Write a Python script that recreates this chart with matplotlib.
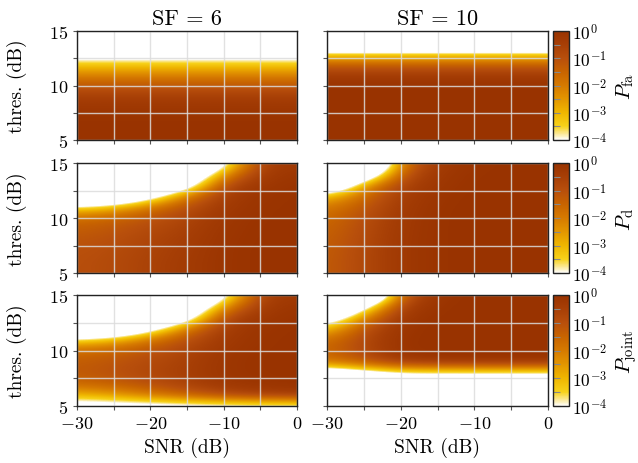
import numpy as np
import matplotlib
matplotlib.use("Agg")
import matplotlib.pyplot as plt
from matplotlib.colors import LinearSegmentedColormap, Normalize
from matplotlib.ticker import FuncFormatter

plt.rcParams['font.family'] = 'serif'
plt.rcParams['font.serif'] = ['cmr10']
plt.rcParams['mathtext.fontset'] = 'cm'
plt.rcParams['axes.formatter.use_mathtext'] = True
plt.rcParams['axes.unicode_minus'] = False

# evaluation grid
snr_db = [-30, -25, -20, -15, -10, -5, 0]
thres_db = [5, 6, 7, 8, 9, 10, 11, 12, 13, 14, 15]
sf_values = [6, 10]

# log10 probabilities, one row per threshold (5..15 dB), one column per SNR
# false alarm does not depend on SNR -> one value per threshold
log_pfa_sf6 = [0, 0, -0.05, -0.2, -0.5, -1.2, -2.2, -3.4, -4.8, -8, -8]
log_pfa_sf10 = [0, 0, 0, 0, 0, -0.05, -0.4, -1.5, -3.7, -7, -8]

log_pd_sf6 = [
    [-1.0, -0.85, -0.6, -0.35, -0.1, -0.02, 0],
    [-1.0, -0.85, -0.6, -0.35, -0.1, -0.02, 0],
    [-1.05, -0.9, -0.65, -0.4, -0.1, -0.02, 0],
    [-1.15, -1.0, -0.7, -0.45, -0.12, -0.03, 0],
    [-1.35, -1.15, -0.85, -0.55, -0.15, -0.04, 0],
    [-1.7, -1.5, -1.1, -0.7, -0.2, -0.05, 0],
    [-3.6, -3.0, -1.9, -1.0, -0.3, -0.07, -0.02],
    [-7.6, -7.0, -4.6, -2.0, -0.4, -0.1, -0.03],
    [-9, -9, -8, -5.0, -0.8, -0.2, -0.05],
    [-9, -9, -9, -6.5, -2.4, -0.35, -0.15],
    [-9, -9, -9, -9, -4.4, -0.55, -0.3],
]

log_pd_sf10 = [
    [-1.3, -0.8, -0.25, -0.05, 0, 0, 0],
    [-1.3, -0.8, -0.25, -0.05, 0, 0, 0],
    [-1.35, -0.8, -0.25, -0.05, 0, 0, 0],
    [-1.4, -0.85, -0.25, -0.05, 0, 0, 0],
    [-1.5, -0.9, -0.28, -0.05, 0, 0, 0],
    [-1.65, -1.0, -0.3, -0.05, 0, 0, 0],
    [-2.0, -1.2, -0.35, -0.07, 0, 0, 0],
    [-3.2, -1.6, -0.45, -0.1, -0.02, 0, 0],
    [-7.0, -2.5, -0.65, -0.15, -0.03, 0, 0],
    [-9, -6.25, -1.1, -0.2, -0.05, 0, 0],
    [-9, -9, -1.8, -0.3, -0.1, -0.02, 0],
]

log_pjoint_sf6 = [
    [-4.8, -4.75, -4.7, -4.6, -4.5, -4.4, -4.35],
    [-3.0, -2.6, -2.0, -1.4, -0.8, -0.5, -0.35],
    [-1.6, -1.35, -1.0, -0.6, -0.25, -0.1, -0.05],
    [-1.25, -1.05, -0.75, -0.5, -0.15, -0.04, -0.01],
    [-1.35, -1.15, -0.85, -0.55, -0.15, -0.04, 0],
    [-1.7, -1.5, -1.1, -0.7, -0.2, -0.05, 0],
    [-3.6, -3.0, -1.9, -1.0, -0.3, -0.07, -0.02],
    [-7.6, -7.0, -4.6, -2.0, -0.4, -0.1, -0.03],
    [-9, -9, -8, -5.0, -0.8, -0.2, -0.05],
    [-9, -9, -9, -6.5, -2.4, -0.35, -0.15],
    [-9, -9, -9, -9, -4.4, -0.55, -0.3],
]

log_pjoint_sf10 = [
    [-9, -9, -9, -9, -9, -9, -9],
    [-9, -9, -9, -9, -9, -9, -9],
    [-9, -8, -6, -6, -6, -6, -6],
    [-5.4, -4.5, -3.9, -3.9, -3.9, -3.9, -3.9],
    [-1.9, -1.2, -0.3, -0.15, -0.1, -0.1, -0.1],
    [-1.6, -0.8, -0.05, 0, 0, 0, 0],
    [-1.8, -0.8, -0.05, 0, 0, 0, 0],
    [-3.3, -1.0, -0.1, 0, 0, 0, 0],
    [-5.6, -2.2, -0.2, -0.02, 0, 0, 0],
    [-9, -4.45, -0.5, -0.05, 0, 0, 0],
    [-9, -9, -1.2, -0.1, -0.02, 0, 0],
]

cbar_labels = [r'$P_{\mathrm{fa}}$', r'$P_{\mathrm{d}}$', r'$P_{\mathrm{joint}}$']
cbar_ticks = [-4, -3, -2, -1, 0]


def tile_snr(profile):
    return np.repeat(np.array(profile, float)[:, None], len(snr_db), axis=1)


fields = [
    [tile_snr(log_pfa_sf6), tile_snr(log_pfa_sf10)],
    [np.array(log_pd_sf6), np.array(log_pd_sf10)],
    [np.array(log_pjoint_sf6), np.array(log_pjoint_sf10)],
]

# white -> yellow -> orange -> brown
cmap = LinearSegmentedColormap.from_list('prob', [
    (0.0, '#ffffff'), (0.05, '#fbeaa0'), (0.125, '#f7d21a'),
    (0.25, '#efb600'), (0.375, '#e39600'), (0.5, '#d67a00'),
    (0.625, '#c86400'), (0.75, '#b84f0c'), (0.875, '#a73f06'),
    (1.0, '#993300')])
cmap.set_under('white')
cmap.set_over('#993300')
norm = Normalize(vmin=-4, vmax=0)

W, H = 638, 464
fig = plt.figure(figsize=(W / 100, H / 100), dpi=100)

col_x = [77, 327]
col_w = [220, 221]
row_y = [32, 164, 296]
row_h = [109, 110, 111]
cb_x, cb_w = 553, 16

dx = snr_db[1] - snr_db[0]
dy = thres_db[1] - thres_db[0]
extent = [snr_db[0] - dx / 2, snr_db[-1] + dx / 2,
          thres_db[0] - dy / 2, thres_db[-1] + dy / 2]

numfmt = FuncFormatter(lambda v, p: r'$%g$' % v)

for r in range(3):
    for c in range(2):
        ax = fig.add_axes([col_x[c] / W, 1 - (row_y[r] + row_h[r]) / H,
                           col_w[c] / W, row_h[r] / H])
        im = ax.imshow(fields[r][c], origin='lower', extent=extent,
                       aspect='auto', cmap=cmap, norm=norm,
                       interpolation='bicubic', interpolation_stage='data')
        ax.set_xlim(-30, 0)
        ax.set_ylim(5, 15)
        ax.set_xticks([-30, -20, -10, 0])
        ax.set_xticks([-25, -15, -5], minor=True)
        ax.set_yticks([5, 10, 15])
        ax.set_yticks([7.5, 12.5], minor=True)
        ax.xaxis.set_major_formatter(numfmt)
        ax.yaxis.set_major_formatter(numfmt)
        ax.grid(which='both', color='#dcdcdc', lw=1.0, alpha=0.85)
        ax.tick_params(which='both', direction='out', length=3, width=0.8,
                       color='#555555', labelsize=13)
        for s in ax.spines.values():
            s.set_linewidth(1.0)
            s.set_color('#222222')
        if r < 2:
            ax.tick_params(labelbottom=False)
        else:
            ax.set_xlabel('SNR (dB)', fontsize=14, labelpad=4)
        if c == 1:
            ax.tick_params(labelleft=False)
        else:
            ax.set_ylabel('thres. (dB)', fontsize=14)
            ax.yaxis.set_label_coords(-0.227, 0.5)
        if r == 0:
            ax.set_title('SF = %d' % sf_values[c], fontsize=16, pad=5)

    cax = fig.add_axes([cb_x / W, 1 - (row_y[r] + row_h[r]) / H,
                        cb_w / W, row_h[r] / H])
    cb = fig.colorbar(im, cax=cax)
    cb.set_ticks(cbar_ticks)
    cb.set_ticklabels([r'$10^{%d}$' % t for t in cbar_ticks])
    cax.set_yticks([-3.5, -2.5, -1.5, -0.5], minor=True)
    cax.tick_params(which='both', direction='in', left=True, right=False,
                    labelleft=False, labelright=True, length=5, width=0.8,
                    color='#888888', labelsize=12.5, pad=2)
    cb.outline.set_linewidth(1.0)
    cb.outline.set_edgecolor('#222222')
    cb.set_label(cbar_labels[r], fontsize=15, labelpad=5)

fig.savefig('out.png', dpi=100)
